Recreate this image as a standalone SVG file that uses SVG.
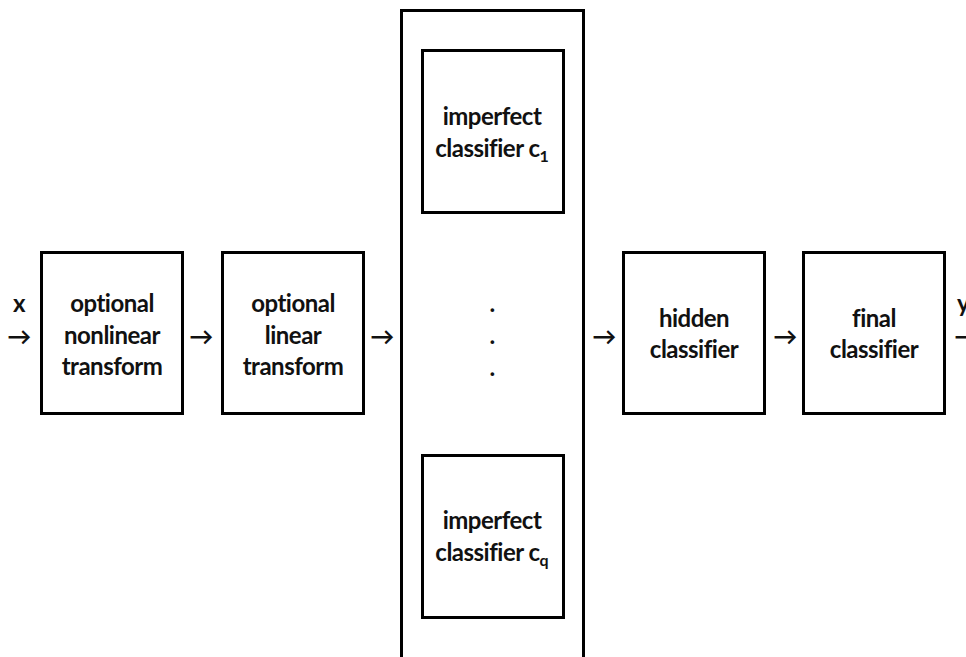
<svg xmlns="http://www.w3.org/2000/svg" width="966" height="657" viewBox="0 0 966 657">
  <style>
    .box { fill: #ffffff; stroke: #000000; stroke-width: 3; }
    .frame { fill: none; stroke: #000000; stroke-width: 3; }
    text { font-family: Lato, "Open Sans", "Liberation Sans", sans-serif; font-weight: bold; font-size: 24px; letter-spacing: -0.5px; font-variant-ligatures: none; fill: #111111; text-anchor: middle; }
    .sub { font-size: 16px; letter-spacing: 0; }
  </style>
  <rect width="966" height="657" fill="#ffffff"/>

  <!-- ensemble column holding the imperfect classifiers -->
  <g id="ensemble">
    <path class="frame" d="M401.5,660 V10.5 H583.5 V660"/>
    <text x="492" y="312">.</text>
    <text x="492" y="344">.</text>
    <text x="492" y="376">.</text>
  </g>

  <g id="classifier-c1">
    <rect class="box" x="422.5" y="50.5" width="141" height="162"/>
    <text x="492" y="125">imperfect</text>
    <text x="492" y="157">classifier c<tspan class="sub" dy="5">1</tspan></text>
  </g>

  <g id="classifier-cq">
    <rect class="box" x="422.5" y="455.5" width="141" height="162"/>
    <text x="492" y="529">imperfect</text>
    <text x="492" y="561">classifier c<tspan class="sub" dy="5">q</tspan></text>
  </g>

  <g id="nonlinear-transform">
    <rect class="box" x="41.5" y="252.5" width="141" height="161"/>
    <text x="112" y="312">optional</text>
    <text x="112" y="343.5">nonlinear</text>
    <text x="112" y="375">transform</text>
  </g>

  <g id="linear-transform">
    <rect class="box" x="222.5" y="252.5" width="141" height="161"/>
    <text x="293" y="312">optional</text>
    <text x="293" y="343.5">linear</text>
    <text x="293" y="375">transform</text>
  </g>

  <g id="hidden-classifier">
    <rect class="box" x="623.5" y="252.5" width="141" height="161"/>
    <text x="694" y="327">hidden</text>
    <text x="694" y="358">classifier</text>
  </g>

  <g id="final-classifier">
    <rect class="box" x="803.5" y="252.5" width="141" height="161"/>
    <text x="874" y="327">final</text>
    <text x="874" y="358">classifier</text>
  </g>

  <!-- connectors: arrow glyphs between the stages -->
  <g id="connectors">
    <text x="19" y="312">x</text>
    <text x="19" y="345">→</text>
    <text x="201" y="345">→</text>
    <text x="382" y="345">→</text>
    <text x="604" y="345">→</text>
    <text x="785" y="345">→</text>
    <text x="963" y="312">y</text>
    <text x="966" y="345">→</text>
  </g>
</svg>
